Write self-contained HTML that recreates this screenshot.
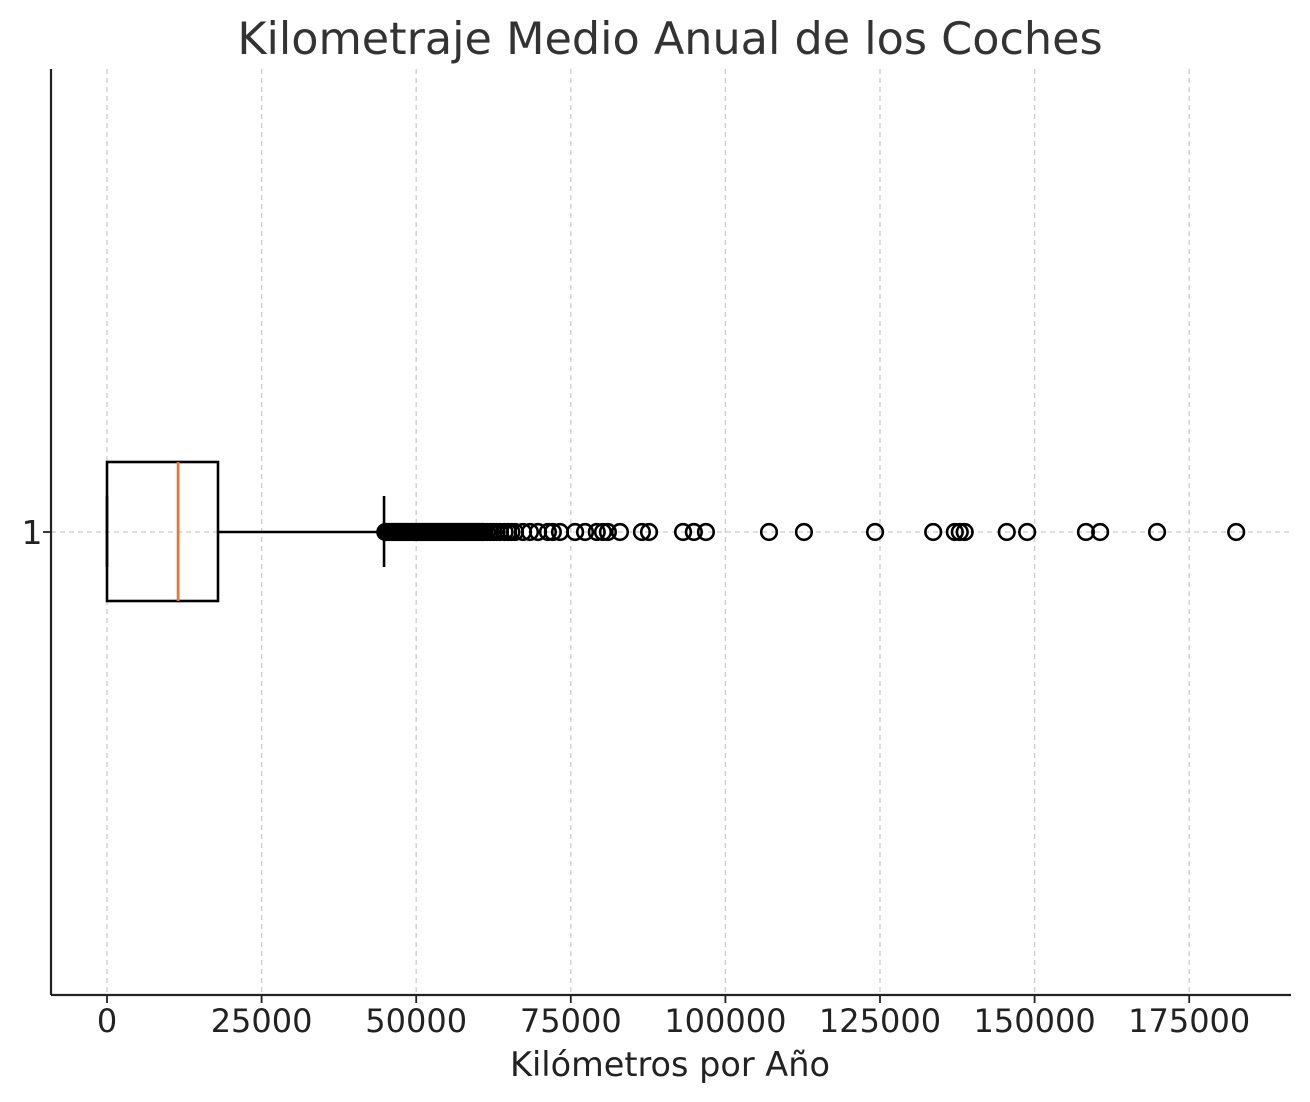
<!DOCTYPE html>
<html><head><meta charset="utf-8">
<style>
body{margin:0;background:#fff;}
svg{display:block;font-family:"DejaVu Sans","Liberation Sans",sans-serif;}
</style></head>
<body>
<svg id="chart" width="1310" height="1102" viewBox="0 0 1310 1102">
<rect width="1310" height="1102" fill="#fff"/>
<text x="670" y="54" text-anchor="middle" font-size="44.5" fill="#333">Kilometraje Medio Anual de los Coches</text>
<g id="grid"></g>
<g id="marks"></g>
<line x1="51" y1="69" x2="51" y2="995" stroke="#222" stroke-width="2.2"/>
<line x1="51" y1="995" x2="1291" y2="995" stroke="#222" stroke-width="2.2"/>
<text x="670" y="1076" text-anchor="middle" font-size="33.5" fill="#222">Kilómetros por Año</text>
</svg>
<script>
const xTicks=[0,25000,50000,75000,100000,125000,150000,175000];
const yCategories=["1"];
const whiskerLow=[0];
const q1=[0];
const median=[11500];
const q3=[17950];
const whiskerHigh=[44800];
const outliers=[45000,45250,45500,45750,46000,46250,46500,46750,47000,47250,47500,47750,48000,48250,48500,48750,49000,49250,49500,49750,50000,50250,50500,50750,51000,51250,51500,51750,52000,52250,52500,52750,53000,53250,53500,53750,54000,54250,54500,54750,55000,55250,55500,55750,56000,56250,56500,56750,57000,57250,57500,57750,58000,58250,58500,58750,59000,59250,59500,59750,60000,60250,60500,60750,61000,61500,62000,62500,63000,63550,64300,64850,65400,65980,67270,68400,69700,71300,72100,73250,75700,77300,79200,80200,81000,82950,86500,87650,93150,94900,96850,107050,112700,124200,133600,137100,137900,138700,145500,148800,158300,160600,169800,182600];
const NS="http://www.w3.org/2000/svg";
const X=v=>107+v*(154.6/25000);
const Y=i=>532;
function mk(tag,attrs,parent){const e=document.createElementNS(NS,tag);for(const k in attrs)e.setAttribute(k,attrs[k]);parent.appendChild(e);return e;}
const grid=document.getElementById('grid'),marks=document.getElementById('marks'),svg=document.getElementById('chart');
xTicks.forEach(t=>{
  const x=X(t);
  const g=mk('line',{x1:x,y1:69,x2:x,y2:995,stroke:'#ccc','stroke-width':1.3,'stroke-dasharray':'5,4'},grid);
  
  
  const tk=mk('line',{x1:x,y1:995,x2:x,y2:1003,stroke:'#222','stroke-width':1.8},svg);
  
  
  const lb=mk('text',{x:x,y:1032,'text-anchor':'middle','font-size':32,fill:'#222'},svg);
  lb.textContent=t;
  
  
});
yCategories.forEach((c,i)=>{
  const y=Y(i);
  const g=mk('line',{x1:51,y1:y,x2:1291,y2:y,stroke:'#ccc','stroke-width':1.3,'stroke-dasharray':'5,4'},grid);
  
  
  const tk=mk('line',{x1:43,y1:y,x2:51,y2:y,stroke:'#222','stroke-width':1.8},svg);
  
  
  const lb=mk('text',{x:32,y:y+12,'text-anchor':'middle','font-size':33,fill:'#222'},svg);
  lb.textContent=c;
  
  
  const b=mk('rect',{x:X(q1[i]),y:y-70,width:X(q3[i])-X(q1[i]),height:139,fill:'none',stroke:'#000','stroke-width':2.6},marks);
  
  
  const m=mk('line',{x1:X(median[i]),y1:y-70,x2:X(median[i]),y2:y+69,stroke:'#e8772e','stroke-width':2.8},marks);
  
  
  const w1=mk('line',{x1:X(q3[i]),y1:y,x2:X(whiskerHigh[i]),y2:y,stroke:'#000','stroke-width':2.6},marks);
  
  
  const c1=mk('line',{x1:X(whiskerHigh[i]),y1:y-36,x2:X(whiskerHigh[i]),y2:y+35,stroke:'#000','stroke-width':2.6},marks);
  
  
  const c2=mk('line',{x1:X(whiskerLow[i]),y1:y-36,x2:X(whiskerLow[i]),y2:y+35,stroke:'#000','stroke-width':2.6},marks);
  
  
  outliers.forEach(v=>{
    const o=mk('circle',{cx:X(v),cy:y,r:7.8,fill:'none',stroke:'#000','stroke-width':2.6},marks);
    
    
  });
});
</script>
</body></html>
